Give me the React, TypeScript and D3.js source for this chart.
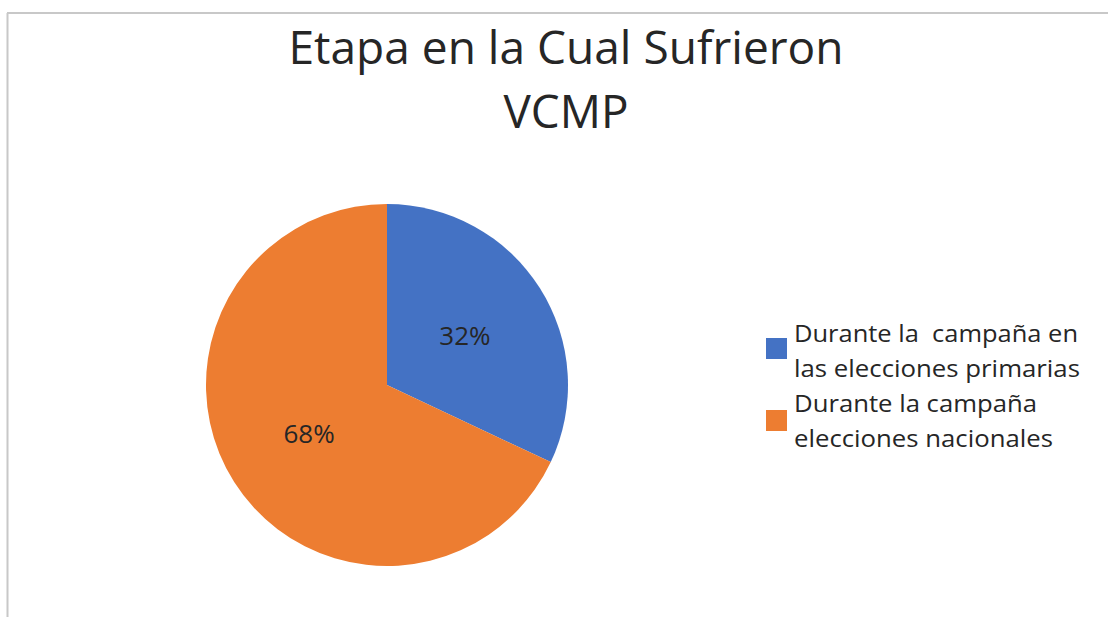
import React from "react";
import * as d3 from "d3";

const titleLines = ["Etapa en la Cual Sufrieron", "VCMP"];
const titleWidths = [555, 125];
const categories = [
  "Durante la  campaña en las elecciones primarias",
  "Durante la campaña elecciones nacionales",
];
const legendLines = [
  ["Durante la  campaña en", "las elecciones primarias"],
  ["Durante la campaña", "elecciones nacionales"],
];
const legendWidths = [
  [284, 286],
  [243, 259],
];
const values = [32, 68];
const colors = ["#4472C4", "#ED7D31"];

export default function App() {
  const W = 1108, H = 617;
  const cx = 387, cy = 385, r = 181;
  const data = categories.map((c, i) => ({ c, v: values[i], color: colors[i] }));
  const pie = d3.pie<any>().value((d) => d.v).sort(null);
  const arcs = pie(data);
  const arc = d3.arc<any>().innerRadius(0).outerRadius(r);
  const labelArc = d3.arc<any>().innerRadius(r * 0.51).outerRadius(r * 0.51);
  const total = d3.sum(values);
  const font = "Open Sans, Noto Sans, sans-serif";
  return (
    <svg width={W} height={H} style={{ position: "absolute", left: 0, top: 0 }}>
      <rect x={0} y={0} width={W} height={H} fill="#fff" />
      <line x1={7.5} y1={13} x2={7.5} y2={H} stroke="#c8c8c8" strokeWidth={2} />
      <line x1={7} y1={13} x2={W} y2={13} stroke="#c8c8c8" strokeWidth={2} />
      {titleLines.map((t, i) => (
        <text
          key={i}
          x={566}
          y={64 + i * 64}
          textAnchor="middle"
          fontFamily={font}
          fontSize={45}
          fill="#262626"
          textLength={titleWidths[i]}
          lengthAdjust="spacingAndGlyphs"
        >
          {t}
        </text>
      ))}
      <g transform={`translate(${cx},${cy})`}>
        {arcs.map((a, i) => (
          <path key={i} d={arc(a) as string} fill={a.data.color} />
        ))}
        {arcs.map((a, i) => {
          const [x, y] = labelArc.centroid(a);
          return (
            <text key={"l" + i} x={x} y={y + 9} textAnchor="middle" fontFamily={font} fontSize={26} fill="#262626">
              {Math.round((a.data.v / total) * 100) + "%"}
            </text>
          );
        })}
      </g>
      {legendLines.map((lines, i) => (
        <g key={i} transform={`translate(766,${338 + i * 72})`}>
          <rect x={0} y={0} width={21} height={21} fill={colors[i]} />
          {lines.map((l, j) => (
            <text
              key={j}
              x={28}
              y={4 + j * 35 - i * 2}
              fontFamily={font}
              fontSize={24}
              fill="#262626"
              style={{ whiteSpace: "pre" }}
              textLength={legendWidths[i][j]}
              lengthAdjust="spacingAndGlyphs"
            >
              {l}
            </text>
          ))}
        </g>
      ))}
    </svg>
  );
}
